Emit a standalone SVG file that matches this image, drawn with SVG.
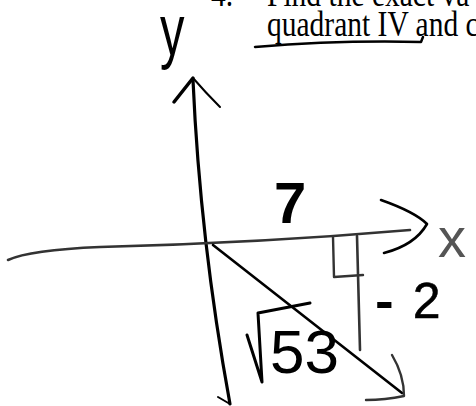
<svg xmlns="http://www.w3.org/2000/svg" width="476" height="406" viewBox="0 0 476 406">
  <style>
    .print { font-family: "Liberation Serif", "Times New Roman", serif; font-size: 36px; fill: #000; }
    .hand { font-family: "Liberation Sans", Arial, sans-serif; fill: #000; }
    .ink { fill: none; stroke: #000; stroke-linecap: round; stroke-linejoin: round; }
    .grey { fill: none; stroke: #333; stroke-linecap: round; stroke-linejoin: round; }
  </style>
  <rect width="476" height="406" fill="#fff"/>

  <g id="problem-text">
    <text class="print" transform="translate(211,6) scale(0.82,1)">4.</text>
    <text class="print" transform="translate(267,6) scale(0.82,1)">Find the exact va</text>
    <text class="print" transform="translate(267,36) scale(0.82,1)">quadrant IV and c</text>
    <path class="ink" stroke-width="2.5" d="M255,47 Q340,40 421,42 L423,37"/>
  </g>

  <g id="connectors">
    <g id="y-axis">
      <path class="ink" stroke-width="3.2" d="M193,80 Q200,240 230,404"/>
      <path class="ink" stroke-width="3.5" d="M174,102 L193,78"/>
      <path class="ink" stroke-width="2" d="M193,78 Q205,92 220,107"/>
      <path class="ink" stroke-width="2" d="M230,404 L218,397"/>
    </g>
    <g id="x-axis">
      <path class="grey" stroke-width="2.6" d="M8,260 Q30,250 100,247 Q260,243 410,230"/>
      <path class="ink" stroke-width="2.6" d="M381,200 Q415,212 427,224 Q415,245 384,253"/>
    </g>
    <g id="triangle">
      <path class="ink" stroke-width="2.6" d="M213,245 L402,393"/>
      <path class="grey" stroke-width="2.6" d="M357,236 L360,350"/>
      <path class="grey" stroke-width="2.4" d="M333,237 L334,277 L363,275"/>
      <path class="grey" stroke-width="2.4" d="M392,355 Q404,375 404,396 Q385,400 366,400"/>
    </g>
  </g>

  <g id="labels">
    <g id="label-y"><text class="hand" font-size="72" transform="translate(160,55) scale(0.68,1)">y</text></g>
    <g id="label-x"><text class="hand" font-size="56" x="438" y="257" style="fill:#555">x</text></g>
    <g id="label-7"><text class="hand" font-size="58" font-weight="bold" x="274" y="223">7</text></g>
    <g id="label-neg2"><text class="hand" font-size="50" x="376" y="318" stroke="#000" stroke-width="2">-<tspan dx="20" stroke-width="0.5">2</tspan></text></g>
    <g id="label-sqrt53">
      <text class="hand" font-size="62" x="270" y="373">53</text>
      <path class="ink" stroke-width="3" d="M247,335 L262,382 L258,313 L310,303"/>
    </g>
  </g>
</svg>
